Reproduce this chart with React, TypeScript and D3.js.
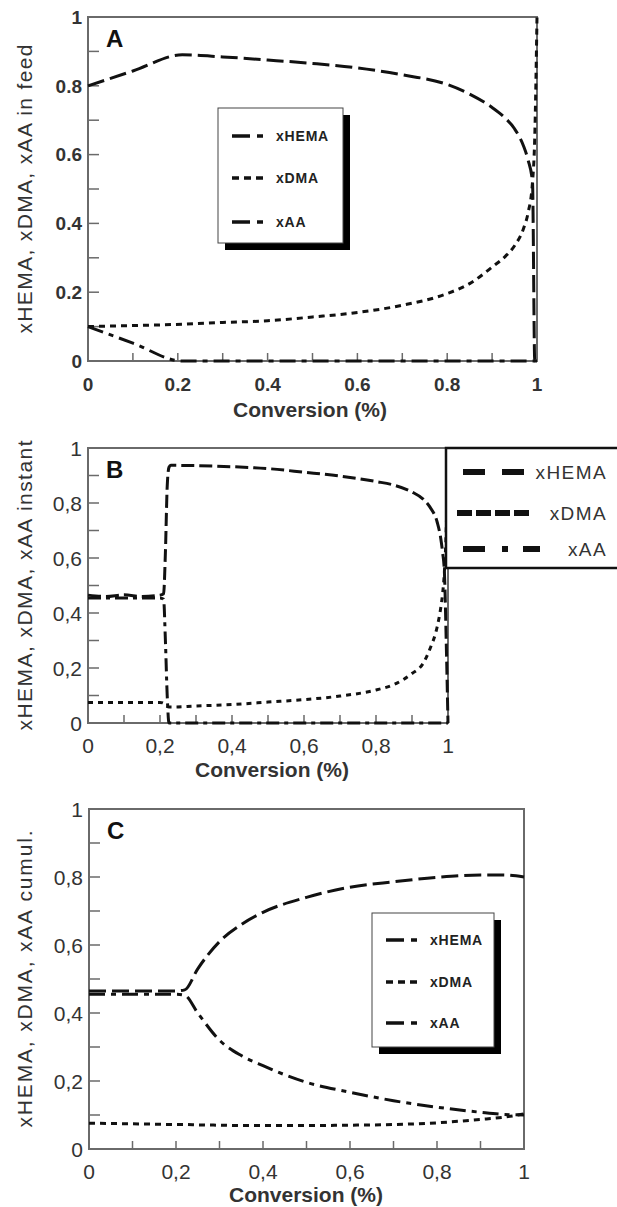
import React from "react";
import * as d3 from "d3";

// panel A: composition in feed
const A_X = [0, 0.1, 0.21, 0.3, 0.4, 0.5, 0.6, 0.7, 0.8, 0.85, 0.9, 0.93, 0.95, 0.97, 0.98, 0.99, 0.995, 1];
const A_HEMA = [0.8, 0.843, 0.89, 0.884, 0.875, 0.865, 0.852, 0.832, 0.804, 0.776, 0.737, 0.705, 0.675, 0.625, 0.585, 0.52, 0.0, 0.0];
const A_DMA = [0.1, 0.103, 0.107, 0.112, 0.117, 0.128, 0.141, 0.162, 0.196, 0.225, 0.273, 0.305, 0.335, 0.385, 0.43, 0.52, 0.65, 1.0];
const A_AA = [0.1, 0.052, 0, 0, 0, 0, 0, 0, 0, 0, 0, 0, 0, 0, 0, 0, 0, 0];

// panel B: instantaneous copolymer composition
const B_X = [0, 0.05, 0.1, 0.15, 0.2, 0.21, 0.215, 0.22, 0.225, 0.23, 0.3, 0.4, 0.5, 0.6, 0.7, 0.8, 0.85, 0.9, 0.93, 0.95, 0.97, 0.98, 0.985, 0.99, 0.995, 1];
const B_HEMA = [0.465, 0.46, 0.466, 0.46, 0.465, 0.47, 0.62, 0.86, 0.93, 0.937, 0.936, 0.932, 0.925, 0.912, 0.898, 0.878, 0.865, 0.84, 0.815, 0.785, 0.73, 0.67, 0.62, 0.55, 0.3, 0];
const B_DMA = [0.075, 0.075, 0.075, 0.075, 0.075, 0.072, 0.066, 0.06, 0.058, 0.058, 0.062, 0.067, 0.076, 0.085, 0.098, 0.12, 0.14, 0.18, 0.215, 0.27, 0.35, 0.42, 0.47, 0.55, 0.7, 1.0];
const B_AA = [0.455, 0.455, 0.455, 0.455, 0.455, 0.45, 0.3, 0.1, 0.0, 0, 0, 0, 0, 0, 0, 0, 0, 0, 0, 0, 0, 0, 0, 0, 0, 0];

// panel C: cumulative copolymer composition
const C_X = [0, 0.05, 0.1, 0.15, 0.2, 0.22, 0.25, 0.3, 0.35, 0.4, 0.5, 0.6, 0.7, 0.8, 0.9, 0.95, 1];
const C_HEMA = [0.465, 0.465, 0.465, 0.465, 0.465, 0.468, 0.53, 0.61, 0.66, 0.696, 0.74, 0.77, 0.786, 0.799, 0.806, 0.806, 0.8];
const C_DMA = [0.076, 0.075, 0.074, 0.073, 0.072, 0.072, 0.071, 0.07, 0.069, 0.069, 0.069, 0.07, 0.072, 0.077, 0.087, 0.093, 0.103];
const C_AA = [0.455, 0.455, 0.455, 0.455, 0.455, 0.452, 0.4, 0.32, 0.275, 0.245, 0.196, 0.167, 0.142, 0.123, 0.108, 0.102, 0.1];

const NAMES = ["xHEMA", "xDMA", "xAA"];

const FONT = "'Liberation Sans', Arial, sans-serif";
const dotFmt = d3.format("~g");
const commaFmt = d3.formatLocale({ decimal: ",", thousands: ".", grouping: [3], currency: ["", ""] }).format("~g");

const INK = "#111";
const FRAME = "#6a6a6a";

function Panel(props: any) {
  const { box, letter, yTitle, fmt, tickBold, xs, series, dashes, titleX, titleY, legend } = props;
  const x = d3.scaleLinear().domain([0, 1]).range([box.left, box.right]);
  const y = d3.scaleLinear().domain([0, 1]).range([box.bottom, box.top]);
  const line = d3
    .line<number>()
    .x((_, i) => x(xs[i]))
    .y((d) => y(d))
    .curve(d3.curveMonotoneX);
  const tickSize = { fontSize: tickBold ? 19 : 21, fontWeight: tickBold ? "bold" : "normal" } as any;

  return (
    <g fontFamily={FONT}>
      {/* minor + major ticks, pointing inward */}
      {x.ticks(10).map((t) => (
        <line key={"xt" + t} x1={x(t)} x2={x(t)} y1={box.bottom} y2={box.bottom - 8} stroke={FRAME} strokeWidth={1.5} />
      ))}
      {y.ticks(10).map((t) => (
        <line key={"yt" + t} x1={box.left} x2={box.left + 11} y1={y(t)} y2={y(t)} stroke={FRAME} strokeWidth={1.5} />
      ))}
      <rect x={box.left} y={box.top} width={box.right - box.left} height={box.bottom - box.top} fill="none" stroke={FRAME} strokeWidth={2} />

      {x.ticks(5).map((t) => (
        <text key={"xl" + t} x={x(t)} y={box.bottom + 30} textAnchor="middle" fill="#333" {...tickSize}>
          {fmt(t)}
        </text>
      ))}
      {y.ticks(5).map((t) => (
        <text key={"yl" + t} x={box.left - 6} y={y(t)} dy="0.36em" textAnchor="end" fill="#333" {...tickSize}>
          {fmt(t)}
        </text>
      ))}

      <text x={box.left + 18} y={box.top + 30} fontSize={24} fontWeight="bold" fill={INK}>
        {letter}
      </text>

      {series.map((s: number[], i: number) => (
        <path key={i} d={line(s) || ""} fill="none" stroke={INK} strokeWidth={3} strokeDasharray={dashes[i]} />
      ))}

      <text x={titleX} y={titleY} textAnchor="middle" fontSize={21} fontWeight="bold" fill="#333">
        Conversion (%)
      </text>
      <text
        transform={`translate(24, ${(box.top + box.bottom) / 2 + yTitle.shift}) rotate(-90)`}
        textAnchor="middle"
        dy="0.36em"
        fontSize={21}
        fill="#333"
        textLength={yTitle.len}
        lengthAdjust="spacing"
      >
        {yTitle.text}
      </text>
      {legend}
    </g>
  );
}

function ShadowLegend({ x0, y0, w, h, rows }: any) {
  const samples = ["18,7,6,60", "7,5", "18,7,6,60"];
  return (
    <g fontFamily={FONT}>
      <rect x={x0 + 7} y={y0 + 7} width={w} height={h} fill="#000" />
      <rect x={x0} y={y0} width={w} height={h} fill="#fff" stroke="#444" strokeWidth={1} />
      {NAMES.map((n, i) => (
        <g key={n}>
          <line x1={x0 + 14} x2={x0 + 45} y1={rows[i]} y2={rows[i]} stroke={INK} strokeWidth={3.5} strokeDasharray={samples[i]} />
          <text x={x0 + 58} y={rows[i]} dy="0.36em" fontSize={14} fontWeight="bold" letterSpacing={0.8} fill="#222">
            {n}
          </text>
        </g>
      ))}
    </g>
  );
}

function BoxLegend() {
  const rows = [472, 513, 549];
  const segs = [
    { x1: 463, x2: 524, dash: "22,17" },
    { x1: 457, x2: 530, dash: "15,4" },
    { x1: 463, x2: 540, dash: "22,17,6,15,17,40" },
  ];
  return (
    <g fontFamily={FONT}>
      <rect x={446} y={448} width={200} height={120} fill="#fff" stroke={INK} strokeWidth={2.5} />
      {NAMES.map((n, i) => (
        <g key={n}>
          <line x1={segs[i].x1} x2={segs[i].x2} y1={rows[i]} y2={rows[i]} stroke={INK} strokeWidth={6} strokeDasharray={segs[i].dash} />
          <text x={607} y={rows[i]} dy="0.36em" textAnchor="end" fontSize={19} letterSpacing={1.4} fill="#333">
            {n}
          </text>
        </g>
      ))}
    </g>
  );
}

const App = () => {
  return (
    <svg width={617} height={1207} style={{ position: "absolute", left: 0, top: 0, background: "#fff" }}>
      <rect width={617} height={1207} fill="#fff" />
      <Panel
        box={{ left: 88, right: 537, top: 17, bottom: 361 }}
        letter="A"
        yTitle={{ text: "xHEMA, xDMA, xAA  in feed", len: 289, shift: 0 }}
        fmt={dotFmt}
        tickBold={true}
        xs={A_X}
        series={[A_HEMA, A_DMA, A_AA]}
        dashes={["17,6", "6,5", "16,6,5,6"]}
        titleX={310}
        titleY={417}
        legend={<ShadowLegend x0={218} y0={108} w={125} h={135} rows={[136, 178, 222]} />}
      />
      <Panel
        box={{ left: 88, right: 448, top: 448, bottom: 723 }}
        letter="B"
        yTitle={{ text: "xHEMA, xDMA, xAA instant", len: 290, shift: 0 }}
        fmt={commaFmt}
        tickBold={false}
        xs={B_X}
        series={[B_HEMA, B_DMA, B_AA]}
        dashes={["13,5", "5,5", "13,5,4,5"]}
        titleX={272}
        titleY={777}
        legend={<BoxLegend />}
      />
      <Panel
        box={{ left: 89, right: 524, top: 809, bottom: 1149 }}
        letter="C"
        yTitle={{ text: "xHEMA, xDMA, xAA cumul.", len: 297, shift: 0 }}
        fmt={commaFmt}
        tickBold={false}
        xs={C_X}
        series={[C_HEMA, C_DMA, C_AA]}
        dashes={["17,6", "6,5", "16,6,5,6"]}
        titleX={306}
        titleY={1202}
        legend={<ShadowLegend x0={372} y0={913} w={122} h={134} rows={[940, 982, 1023]} />}
      />
    </svg>
  );
};

export default App;
